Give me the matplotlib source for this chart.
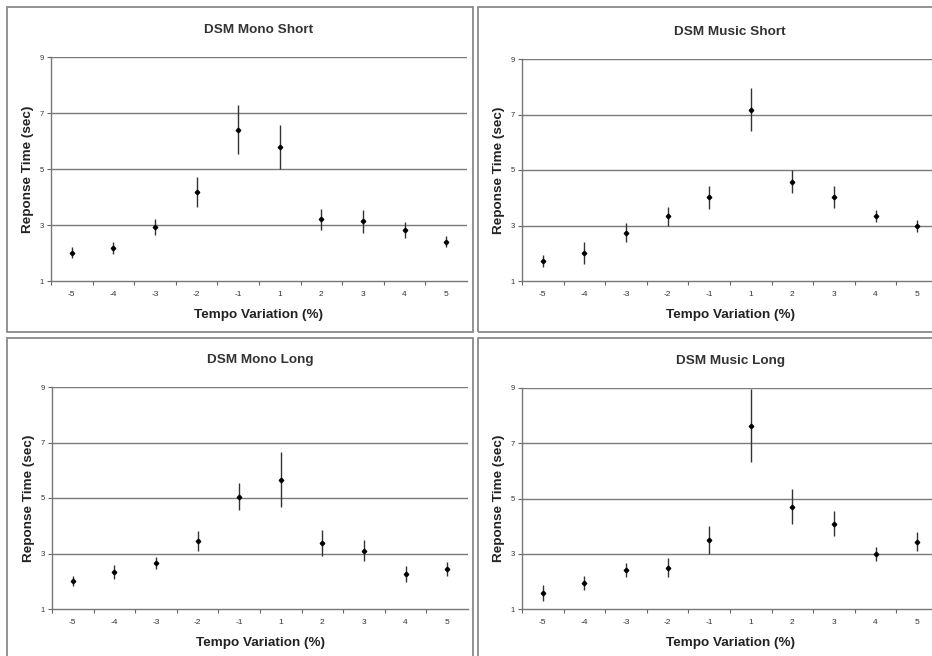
import matplotlib
matplotlib.use("Agg")
import matplotlib.pyplot as plt
from matplotlib.patches import Rectangle

plt.rcParams['font.family'] = ['Liberation Sans', 'DejaVu Sans']

categories = ['-5', '-4', '-3', '-2', '-1', '1', '2', '3', '4', '5']
y_ticks = [1, 3, 5, 7, 9]

titles = ['DSM Mono Short', 'DSM Music Short', 'DSM Mono Long', 'DSM Music Long']

mono_short_mean = [2.01, 2.18, 2.93, 4.18, 6.40, 5.78, 3.20, 3.13, 2.81, 2.41]
mono_short_err = [0.20, 0.20, 0.27, 0.55, 0.88, 0.78, 0.37, 0.40, 0.28, 0.19]

music_short_mean = [1.72, 2.02, 2.74, 3.33, 4.02, 7.17, 4.58, 4.02, 3.34, 2.99]
music_short_err = [0.21, 0.40, 0.35, 0.34, 0.42, 0.78, 0.41, 0.39, 0.21, 0.22]

mono_long_mean = [2.02, 2.33, 2.66, 3.45, 5.04, 5.65, 3.38, 3.10, 2.26, 2.45]
mono_long_err = [0.18, 0.24, 0.23, 0.37, 0.49, 0.99, 0.46, 0.38, 0.29, 0.25]

music_long_mean = [1.58, 1.94, 2.40, 2.50, 3.50, 7.63, 4.71, 4.08, 2.99, 3.44]
music_long_err = [0.29, 0.26, 0.25, 0.34, 0.50, 1.32, 0.63, 0.45, 0.27, 0.33]

means = [mono_short_mean, music_short_mean, mono_long_mean, music_long_mean]
errs = [mono_short_err, music_short_err, mono_long_err, music_long_err]

W, H = 932, 656
fig = plt.figure(figsize=(W / 100, H / 100), dpi=100)

# panel boxes (pixels: x0, y0, x1, y1 from top-left)
panels = [(7, 7, 472.5, 332), (477.5, 7, 940, 332), (7, 337.5, 472.5, 665), (477.5, 337.5, 940, 665)]
for (x0, y0, x1, y1) in panels:
    fig.add_artist(Rectangle((x0 / W, 1 - y1 / H), (x1 - x0) / W, (y1 - y0) / H,
                             transform=fig.transFigure, fill=False,
                             edgecolor='#8a8a8a', linewidth=1.3))

# axes positions (pixels: left, right, top, bottom)
axpos = [(51, 467, 57, 281), (522, 938, 59, 281), (52, 468, 387, 609), (522, 938, 388, 609)]

x = list(range(len(categories)))
for i in range(4):
    l, r, t, b = axpos[i]
    ax = fig.add_axes([l / W, 1 - b / H, (r - l) / W, (b - t) / H])
    ax.set_xlim(-0.5, len(categories) - 0.5)
    ax.set_ylim(1, 9)
    ax.set_yticks(y_ticks)
    ax.set_yticklabels([str(v) for v in y_ticks], fontsize=5.5, color='#333333')
    ax.set_xticks(x)
    ax.set_xticklabels(categories, fontsize=6, color='#333333')
    ax.set_xticks([v + 0.5 for v in x[:-1]] + [-0.5], minor=True)
    ax.tick_params(axis='x', which='major', length=0, pad=7.5)
    ax.tick_params(axis='x', which='minor', length=3, width=0.8, color='#666666', direction='out')
    ax.tick_params(axis='y', length=3, width=0.8, color='#666666', pad=2)
    for yv in y_ticks[1:]:
        ax.axhline(yv, color='#7a7a7a', linewidth=1.0, zorder=1)
    for s in ['top', 'right']:
        ax.spines[s].set_visible(False)
    ax.spines['left'].set_color('#777777')
    ax.spines['bottom'].set_color('#777777')
    ax.spines['left'].set_linewidth(1.0)
    ax.spines['bottom'].set_linewidth(1.0)
    ax.errorbar(x, means[i], yerr=errs[i], fmt='D', color='black', markersize=2.3,
                ecolor='#333333', elinewidth=1.0, capsize=0, zorder=3)
    ax.set_xlabel('Tempo Variation (%)', fontsize=9.7, fontweight='bold', color='#222222', labelpad=7.5)
    ax.set_ylabel('Reponse Time (sec)', fontsize=9.7, fontweight='bold', color='#222222', labelpad=4)
    ax.set_title(titles[i], fontsize=9.7, fontweight='bold', color='#333333', pad=17)

fig.savefig('out.png', dpi=100)
